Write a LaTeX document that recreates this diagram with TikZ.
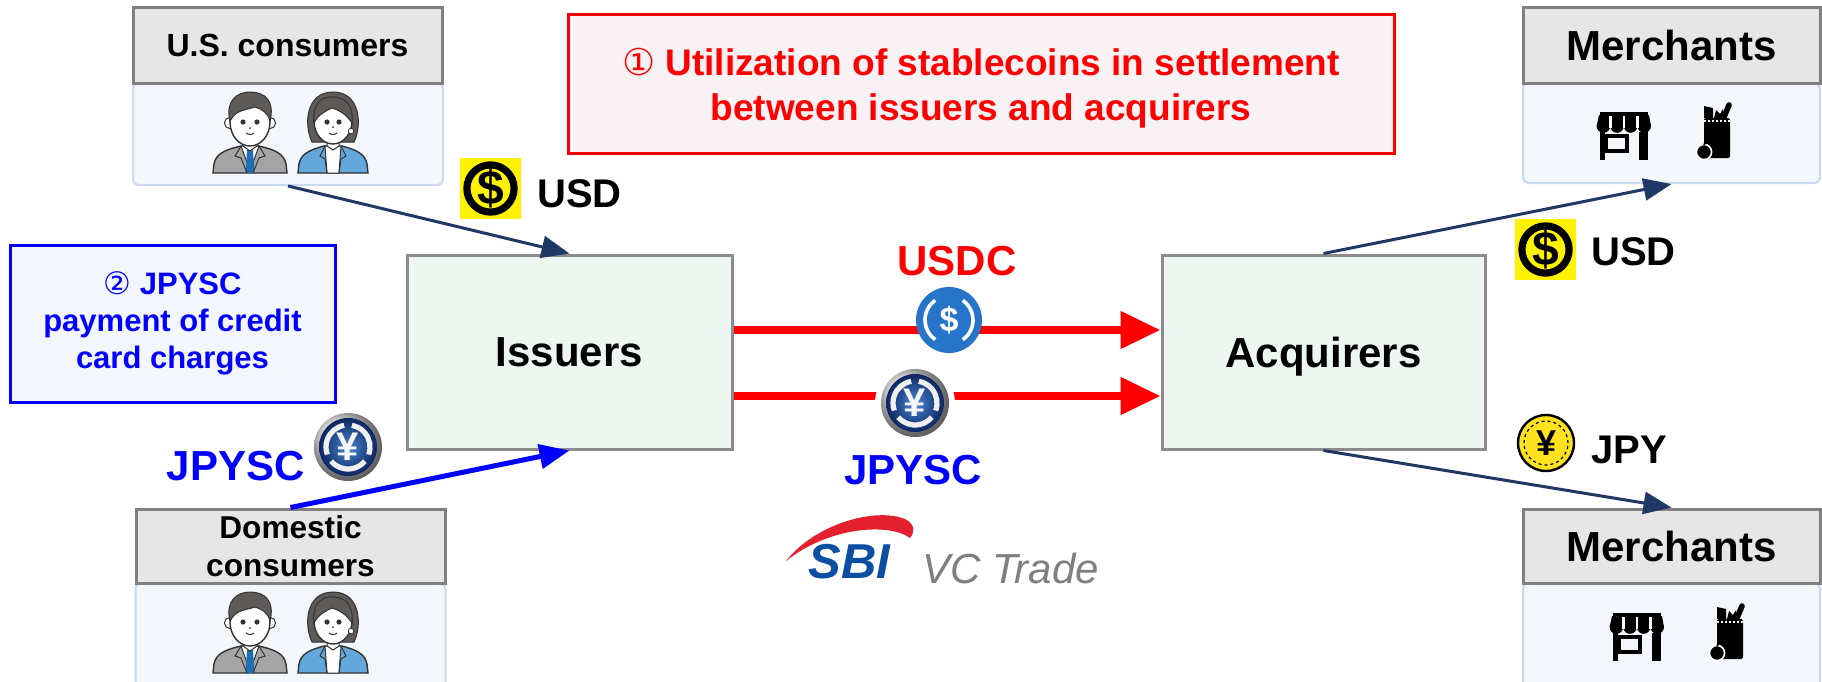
\documentclass[tikz,border=0pt]{standalone}
\usepackage{fontspec}
\setmainfont{Liberation Sans}
\newfontfamily\symfont{DejaVu Sans}
\usetikzlibrary{arrows.meta,calc}

\definecolor{hdrfill}{HTML}{E6E6E6}
\definecolor{hdrline}{HTML}{808080}
\definecolor{bodyfill}{HTML}{F3F7FB}
\definecolor{bodyline}{HTML}{C9D9EE}
\definecolor{partyfill}{HTML}{EDF6F0}
\definecolor{partyline}{HTML}{8C8C8C}
\definecolor{titlefill}{HTML}{F8F2F5}
\definecolor{navy}{HTML}{1F3864}
\definecolor{pureblue}{HTML}{0000FF}
\definecolor{purered}{HTML}{FF0000}
\definecolor{usdcblue}{HTML}{2775CA}
\definecolor{coinyellow}{HTML}{FFE21F}
\definecolor{sbiblue}{HTML}{0B4EA2}
\definecolor{sbired}{HTML}{E4202E}
\definecolor{trgray}{HTML}{7F7F7F}
\definecolor{suitgray}{HTML}{A5A5A5}
\definecolor{blazer}{HTML}{62A8DC}
\definecolor{hair}{HTML}{5E5A58}
\definecolor{outline}{HTML}{333333}
\definecolor{tieblue}{HTML}{1F6FB5}
\definecolor{jpyin}{HTML}{4A88D6}
\definecolor{jpyout}{HTML}{0C2560}

\tikzset{
  hdr/.style={draw=hdrline, fill=hdrfill, line width=1.5pt, inner sep=0pt,
    minimum width=154.5pt, minimum height=38pt, align=center},
  bodybox/.style={draw=bodyline, fill=bodyfill, line width=1pt, rounded corners=3pt,
    minimum width=155pt, minimum height=51pt},
  party/.style={draw=partyline, fill=partyfill, line width=1.5pt,
    minimum width=162.5pt, minimum height=97pt, text depth=0pt,
    font=\bfseries\fontsize{21pt}{25pt}\selectfont},
  lbl/.style={font=\bfseries\fontsize{21pt}{25pt}\selectfont, inner sep=0pt},
  navyarrow/.style={draw=navy, line width=1.5pt,
    -{Triangle[length=14pt,width=11pt]}},
  bluearrow/.style={draw=pureblue, line width=2.5pt,
    -{Triangle[length=15pt,width=12pt]}},
  redarrow/.style={draw=purered, line width=4pt,
    -{Triangle[length=20pt,width=18pt]}},
  % consumer icons (origin = bottom centre of the figure)
  man/.pic={
    \filldraw[fill=suitgray,draw=outline,line width=0.7pt] (-37,0) -- (-36,-9)
      .. controls (-34,-19) and (-26,-23) .. (-9,-27) -- (9,-27)
      .. controls (26,-23) and (34,-19) .. (36,-9) -- (37,0) -- cycle;
    \filldraw[fill=white,draw=outline,line width=0.5pt] (-9,-27) -- (9,-27) -- (0,-2) -- cycle;
    \fill[tieblue] (-3,-23) -- (3,-23) -- (4.5,0) -- (-4.5,0) -- cycle;
    \draw[outline,line width=0.5pt] (-9,-27) -- (-15,-17) -- (-9,-15) -- (-3,0)
      (9,-27) -- (15,-17) -- (9,-15) -- (3,0);
    \filldraw[fill=white,draw=outline,line width=0.5pt] (-7,-34) -- (-7,-27) -- (0,-22) -- (7,-27) -- (7,-34);
    \filldraw[fill=white,draw=outline,line width=0.5pt] (-20,-50) circle[radius=2.8pt] (20,-50) circle[radius=2.8pt];
    \filldraw[fill=white,draw=outline,line width=0.7pt] (0,-51) ellipse[x radius=10pt,y radius=12pt];
    \filldraw[fill=hair,draw=outline,line width=0.5pt] (-20,-52)
      .. controls (-25,-72) and (-13,-81) .. (0,-81)
      .. controls (15,-81) and (25,-72) .. (20,-52)
      .. controls (18,-60) and (12,-64) .. (5,-66)
      .. controls (-4,-63) and (-13,-63) .. (-18,-55) -- cycle;
    \fill[outline] (-7,-51) circle[radius=1.3pt] (7,-51) circle[radius=1.3pt] (0,-45) circle[radius=0.5pt];
    \draw[outline,line width=0.5pt] (-4,-40) .. controls (-2,-38) and (2,-38) .. (4,-40);
  },
  woman/.pic={
    \filldraw[fill=hair,draw=outline,line width=0.5pt] (-21,-31)
      .. controls (-29,-47) and (-28,-81) .. (0,-81)
      .. controls (28,-81) and (29,-47) .. (21,-31) -- cycle;
    \filldraw[fill=blazer,draw=outline,line width=0.7pt] (-35,0) -- (-34,-9)
      .. controls (-32,-19) and (-24,-23) .. (-9,-27) -- (9,-27)
      .. controls (24,-23) and (32,-19) .. (34,-9) -- (35,0) -- cycle;
    \filldraw[fill=white,draw=outline,line width=0.5pt] (-8,-27) -- (8,-27) -- (6,0) -- (-6,0) -- cycle;
    \draw[outline,line width=0.5pt] (-8,-27) -- (-13,-17) -- (-8,-14) -- (-6,0)
      (8,-27) -- (13,-17) -- (8,-14) -- (6,0);
    \filldraw[fill=white,draw=outline,line width=0.5pt] (-6,-34) -- (-6,-27) -- (0,-23) -- (6,-27) -- (6,-34);
    \filldraw[fill=white,draw=outline,line width=0.7pt] (0,-52) ellipse[x radius=9.5pt,y radius=11.5pt];
    \filldraw[fill=hair,draw=outline,line width=0.5pt] (-19,-50)
      .. controls (-21,-72) and (-9,-77) .. (0,-76)
      .. controls (11,-76) and (21,-69) .. (19,-50)
      .. controls (13,-59) and (6,-63) .. (-1,-65)
      .. controls (-8,-62) and (-15,-58) .. (-19,-50) -- cycle;
    \filldraw[fill=white,draw=outline,line width=0.4pt] (18,-42) circle[radius=1.4pt];
    \fill[outline] (-6,-51) circle[radius=1.3pt] (6,-51) circle[radius=1.3pt] (0,-46) circle[radius=0.5pt];
    \draw[outline,line width=0.5pt] (-4,-40) .. controls (-2,-38) and (2,-38) .. (4,-40);
  },
  % merchant icons (origin = centre)
  store/.pic={
    \fill (-24,-24) rectangle (24,-21);
    \fill (-25,-21) -- (25,-21) -- (27,-10)
      arc[start angle=0,end angle=-180,radius=3.4pt]
      arc[start angle=0,end angle=-180,radius=3.4pt]
      arc[start angle=0,end angle=-180,radius=3.4pt]
      arc[start angle=0,end angle=-180,radius=3.4pt]
      -- cycle;
    \draw[white,line width=1.2pt] (-13.5,-20) -- (-13.5,-8) (0,-20) -- (0,-8) (13.5,-20) -- (13.5,-8);
    \fill (-24,-4) rectangle (-19,24);
    \fill (15,-4) rectangle (24,24);
    \draw[line width=2pt] (-18,0) rectangle (3,15);
  },
  bag/.pic={
    \fill[rounded corners=0.8pt] (-13,-16) rectangle (13,24);
    \draw[white,line width=0.6pt,dash pattern=on 1pt off 1pt] (-13,-13) -- (13,-13);
    \fill (-13,-28) -- (-4,-26) -- (-4,-16) -- (-13,-16) -- cycle;
    \fill (-3,-16) -- (-1,-24) -- (3,-20) -- (6,-25) -- (7,-16) -- cycle;
    \draw[line width=2.8pt,line cap=round] (7,-17) -- (12,-29);
    \filldraw[fill=black,draw=white,line width=0.8pt] (-13,18) circle[radius=3.8pt];
    \draw[line width=0.8pt] (-13,11) -- (-11,7);
  },
  % currency icons (origin = centre)
  usdicon/.pic={
    \fill[yellow] (-30.5,-30.5) rectangle (30.5,30.5);
    \draw[black,line width=3.6pt] (0,0) circle[radius=11.8pt];
    \node[inner sep=0pt,font=\bfseries\fontsize{24pt}{24pt}\selectfont] (-sign) at (0,0) {\$};
  },
  usdccoin/.pic={
    \fill[usdcblue] (0,0) circle[radius=16.5pt];
    \draw[white,line width=1.8pt] (125:12pt) arc[start angle=125,end angle=235,radius=12pt];
    \draw[white,line width=1.8pt] (-55:12pt) arc[start angle=-55,end angle=55,radius=12pt];
    \node[white,inner sep=0pt,font=\bfseries\fontsize{17pt}{17pt}\selectfont] (-sign) at (0,0) {\$};
  },
  jpysccoin/.pic={
    \fill[white] (0,0) circle[radius=20pt];
    \shade[ball color=white!80!gray] (0,0) circle[radius=17pt];
    \shade[inner color=jpyin,outer color=jpyout] (0,0) circle[radius=14.5pt];
    \foreach \a in {100,220,340}
      \draw[white!88!gray,line width=2.6pt] (\a:11pt) arc[start angle=\a,end angle=\a+100,radius=11pt];
    \node[white!92!gray,inner sep=0pt,font=\bfseries\fontsize{20pt}{20pt}\selectfont] (-sign) at (0,0) {¥};
  },
  jpycoin/.pic={
    \filldraw[fill=coinyellow,draw=black,line width=1.2pt] (0,0) circle[radius=14pt];
    \draw[black,line width=0.6pt,dash pattern=on 1.5pt off 1.5pt] (0,0) circle[radius=11pt];
    \node[inner sep=0pt,font=\bfseries\fontsize{18pt}{18pt}\selectfont] (-sign) at (0,0) {¥};
  }
}

\begin{document}
\begin{tikzpicture}[x=0.5pt,y=-0.5pt]
\useasboundingbox (0,0) rectangle (1822,681);
\clip (0,0) rectangle (1822,681);
\fill[white] (0,0) rectangle (1822,681);

% consumer groups
\node[bodybox] (usBody) at (288,134) {};
\node[hdr,font=\bfseries\fontsize{16pt}{19pt}\selectfont] (usHead) at (287.5,45) {U.S. consumers};
\pic (usMan) at (250,173) {man};
\pic (usWoman) at (333,173) {woman};

\node[bodybox,minimum height=53pt] (domBody) at (290.5,636) {};
\node[hdr,minimum height=37pt,font=\bfseries\fontsize{15.8pt}{19pt}\selectfont] (domHead) at (290.5,546) {Domestic\\consumers};
\pic (domMan) at (250,673) {man};
\pic (domWoman) at (333,673) {woman};

% merchant groups
\node[bodybox,minimum width=148.5pt,minimum height=50pt] (mTopBody) at (1671.5,133) {};
\node[hdr,minimum width=148.5pt,font=\bfseries\fontsize{21pt}{25pt}\selectfont] (mTopHead) at (1671.5,45) {Merchants};
\pic (mTopStore) at (1624,136) {store};
\pic (mTopBag) at (1717,134) {bag};

\node[bodybox,minimum width=148.5pt,minimum height=53pt] (mBotBody) at (1671.5,636) {};
\node[hdr,minimum width=148.5pt,minimum height=37pt,font=\bfseries\fontsize{21pt}{25pt}\selectfont] (mBotHead) at (1671.5,546) {Merchants};
\pic (mBotStore) at (1637,637) {store};
\pic (mBotBag) at (1730,635) {bag};

% issuers and acquirers
\node[party] (issuers) at (569.5,352) {Issuers};
\node[party,minimum width=161.5pt] (acquirers) at (1323.5,352) {Acquirers};

% headline boxes
\node[draw=purered,fill=titlefill,line width=1.5pt,minimum width=413pt,minimum height=69.5pt] (titleBox) at (981,83.5) {};
\node[anchor=base,purered,inner sep=0pt,font=\bfseries\fontsize{18.5pt}{22.5pt}\selectfont] (titleLineA) at (981,75)
  {{\symfont\mdseries ①} Utilization of stablecoins in settlement};
\node[anchor=base,purered,inner sep=0pt,font=\bfseries\fontsize{18.5pt}{22.5pt}\selectfont] (titleLineB) at (981,120)
  {between issuers and acquirers};

\node[draw=pureblue,fill=bodyfill,line width=1.5pt,minimum width=162.5pt,minimum height=78.5pt,
  text=pureblue,align=center,font=\bfseries\fontsize{15.5pt}{18.5pt}\selectfont] (jpyscNote) at (172.5,323.5)
  {{\symfont\mdseries ②} JPYSC\\payment of credit\\card charges};

% flows
\draw[navyarrow] (usBody.south) -- (issuers.north);
\draw[bluearrow] (domHead.north) -- (issuers.south);
\draw[navyarrow] (acquirers.north) -- (mTopBody.south);
\draw[navyarrow] (acquirers.south) -- (mBotHead.north);
\draw[redarrow] ($(issuers.east)+(0,-22)$) -- ($(acquirers.west)+(0,-22)$);
\draw[redarrow] ($(issuers.east)+(0,44)$) -- ($(acquirers.west)+(0,44)$);

% currency marks
\pic (usdTop) at (490.5,188.5) {usdicon};
\node[lbl,anchor=base west,font=\bfseries\fontsize{20pt}{24pt}\selectfont] (usdTopText) at (537,207) {USD};
\pic (usdBot) at (1545.5,249.5) {usdicon};
\node[lbl,anchor=base west,font=\bfseries\fontsize{20pt}{24pt}\selectfont] (usdBotText) at (1591,265) {USD};
\pic (jpy) at (1546,443) {jpycoin};
\node[lbl,anchor=base west,font=\bfseries\fontsize{20pt}{24pt}\selectfont] (jpyText) at (1591,463) {JPY};

\pic (usdc) at (949,320) {usdccoin};
\node[lbl,anchor=base,purered] (usdcText) at (957,275) {USDC};
\pic (jpyscMid) at (915,403) {jpysccoin};
\node[lbl,anchor=base,pureblue] (jpyscMidText) at (913,484) {JPYSC};
\pic (jpyscLeft) at (348,447) {jpysccoin};
\node[lbl,anchor=base east,pureblue] (jpyscLeftText) at (305,480) {JPYSC};

% company logo
\fill[sbired] (786,561) .. controls (815,524) and (875,507) .. (905,519)
  .. controls (915,524) and (915,532) .. (910,538)
  .. controls (890,523) and (830,526) .. (786,561) -- cycle;
\node[anchor=base west,inner sep=0pt,sbiblue,font=\bfseries\itshape\fontsize{24.5pt}{28pt}\selectfont] (sbiText) at (808,578) {SBI};
\node[anchor=base west,inner sep=0pt,trgray,font=\itshape\fontsize{21pt}{25pt}\selectfont] (vcText) at (922,583) {VC Trade};
\end{tikzpicture}
\end{document}
